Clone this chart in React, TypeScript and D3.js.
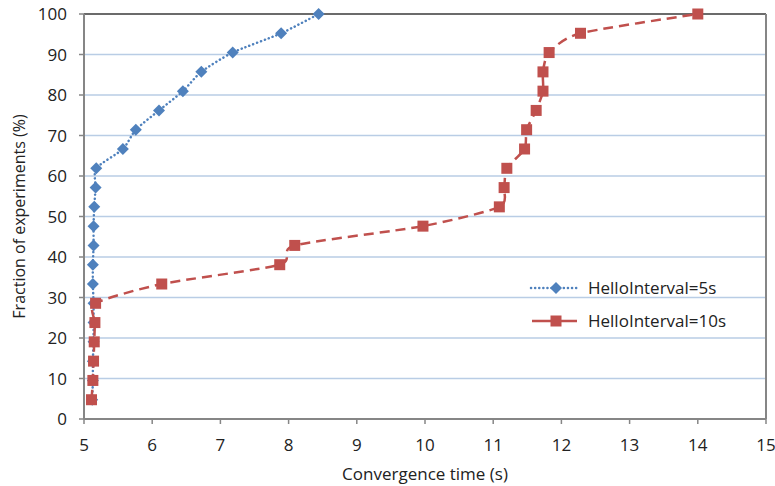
import React from "react";
import * as d3 from "d3";

const yValues = [4.76, 9.52, 14.29, 19.05, 23.81, 28.57, 33.33, 38.1, 42.86, 47.62, 52.38, 57.14, 61.9, 66.67, 71.43, 76.19, 80.95, 85.71, 90.48, 95.24, 100];
const hello5X = [5.12, 5.13, 5.13, 5.14, 5.14, 5.14, 5.13, 5.13, 5.14, 5.14, 5.15, 5.17, 5.18, 5.57, 5.76, 6.1, 6.45, 6.72, 7.18, 7.89, 8.44];
const hello10X = [5.11, 5.13, 5.14, 5.15, 5.16, 5.17, 6.14, 7.87, 8.09, 9.97, 11.09, 11.16, 11.2, 11.46, 11.49, 11.63, 11.73, 11.73, 11.82, 12.28, 14.0];
const xTicks = [5, 6, 7, 8, 9, 10, 11, 12, 13, 14, 15];
const yTicks = [0, 10, 20, 30, 40, 50, 60, 70, 80, 90, 100];
const seriesNames = ["HelloInterval=5s", "HelloInterval=10s"];

const W = 775, H = 486;
const L = 84, R = 766, T = 14, B = 419;
const FONT = "'Open Sans', sans-serif";
const BLUE = "#4f81bd";
const RED = "#c0504d";

export default function App() {
  const x = d3.scaleLinear().domain([5, 15]).range([L, R]);
  const y = d3.scaleLinear().domain([0, 100]).range([B, T]);
  const line = d3.line<[number, number]>().x(d => x(d[0])).y(d => y(d[1])).curve(d3.curveCardinal.tension(0.3));
  const blue = hello5X.map((v, i) => [v, yValues[i]] as [number, number]);
  const red = hello10X.map((v, i) => [v, yValues[i]] as [number, number]);
  const diamond = (cx: number, cy: number, r: number) => `M${cx},${cy - r}L${cx + r},${cy}L${cx},${cy + r}L${cx - r},${cy}Z`;
  const ms = 5.5;
  return (
    <div style={{ position: "absolute", left: 0, top: 0 }}>
      <svg width={W} height={H} style={{ display: "block", background: "#fff" }}>
        {yTicks.filter(t => t > 0 && t < 100).map(t => (
          <line key={"g" + t} x1={L} x2={R} y1={y(t)} y2={y(t)} stroke="#b9cde5" strokeWidth={1.5} />
        ))}
        <line x1={L} x2={R} y1={T} y2={T} stroke="#3a3a3a" strokeWidth={1.5} />
        <line x1={R} x2={R} y1={T} y2={B} stroke="#868686" strokeWidth={2} />
        <line x1={L} x2={R} y1={B} y2={B} stroke="#868686" strokeWidth={2} />
        <line x1={L} x2={L} y1={T} y2={B} stroke="#868686" strokeWidth={2} />
        {xTicks.map(t => (
          <g key={"x" + t}>
            <line x1={x(t)} x2={x(t)} y1={B} y2={B + 5} stroke="#868686" strokeWidth={1.5} />
            <text x={x(t)} y={451} textAnchor="middle" fontFamily={FONT} fontSize={17} fill="#222">{t}</text>
          </g>
        ))}
        {yTicks.map(t => (
          <g key={"y" + t}>
            <line x1={L - 5} x2={L} y1={y(t)} y2={y(t)} stroke="#868686" strokeWidth={1.5} />
            <text x={67} y={y(t) + 6} textAnchor="end" fontFamily={FONT} fontSize={17} fill="#222">{t}</text>
          </g>
        ))}
        <text x={(341 + 509) / 2} y={480} textAnchor="middle" fontFamily={FONT} fontSize={17} fill="#222">Convergence time (s)</text>
        <text transform={`translate(25,${(T + B) / 2}) rotate(-90)`} textAnchor="middle" fontFamily={FONT} fontSize={16} fill="#222">Fraction of experiments (%)</text>

        <path d={line(blue) || ""} fill="none" stroke={BLUE} strokeWidth={2.5} strokeDasharray="0.1 4" strokeLinecap="round" />
        {blue.map((p, i) => (
          <path key={"b" + i} d={diamond(x(p[0]), y(p[1]), 6)} fill={BLUE} />
        ))}
        <path d={line(red) || ""} fill="none" stroke={RED} strokeWidth={2.5} strokeDasharray="10 6" />
        {red.map((p, i) => (
          <rect key={"r" + i} x={x(p[0]) - ms} y={y(p[1]) - ms} width={ms * 2} height={ms * 2} fill={RED} />
        ))}

        <line x1={531} x2={578} y1={288} y2={288} stroke={BLUE} strokeWidth={2.5} strokeDasharray="0.1 4" strokeLinecap="round" />
        <path d={diamond(556, 288, 6)} fill={BLUE} />
        <text x={588} y={294} fontFamily={FONT} fontSize={17} fill="#222">{seriesNames[0]}</text>
        <line x1={532} x2={577} y1={321} y2={321} stroke={RED} strokeWidth={2.5} />
        <rect x={556 - ms} y={321 - ms} width={ms * 2} height={ms * 2} fill={RED} />
        <text x={588} y={327} fontFamily={FONT} fontSize={17} fill="#222">{seriesNames[1]}</text>
      </svg>
    </div>
  );
}
